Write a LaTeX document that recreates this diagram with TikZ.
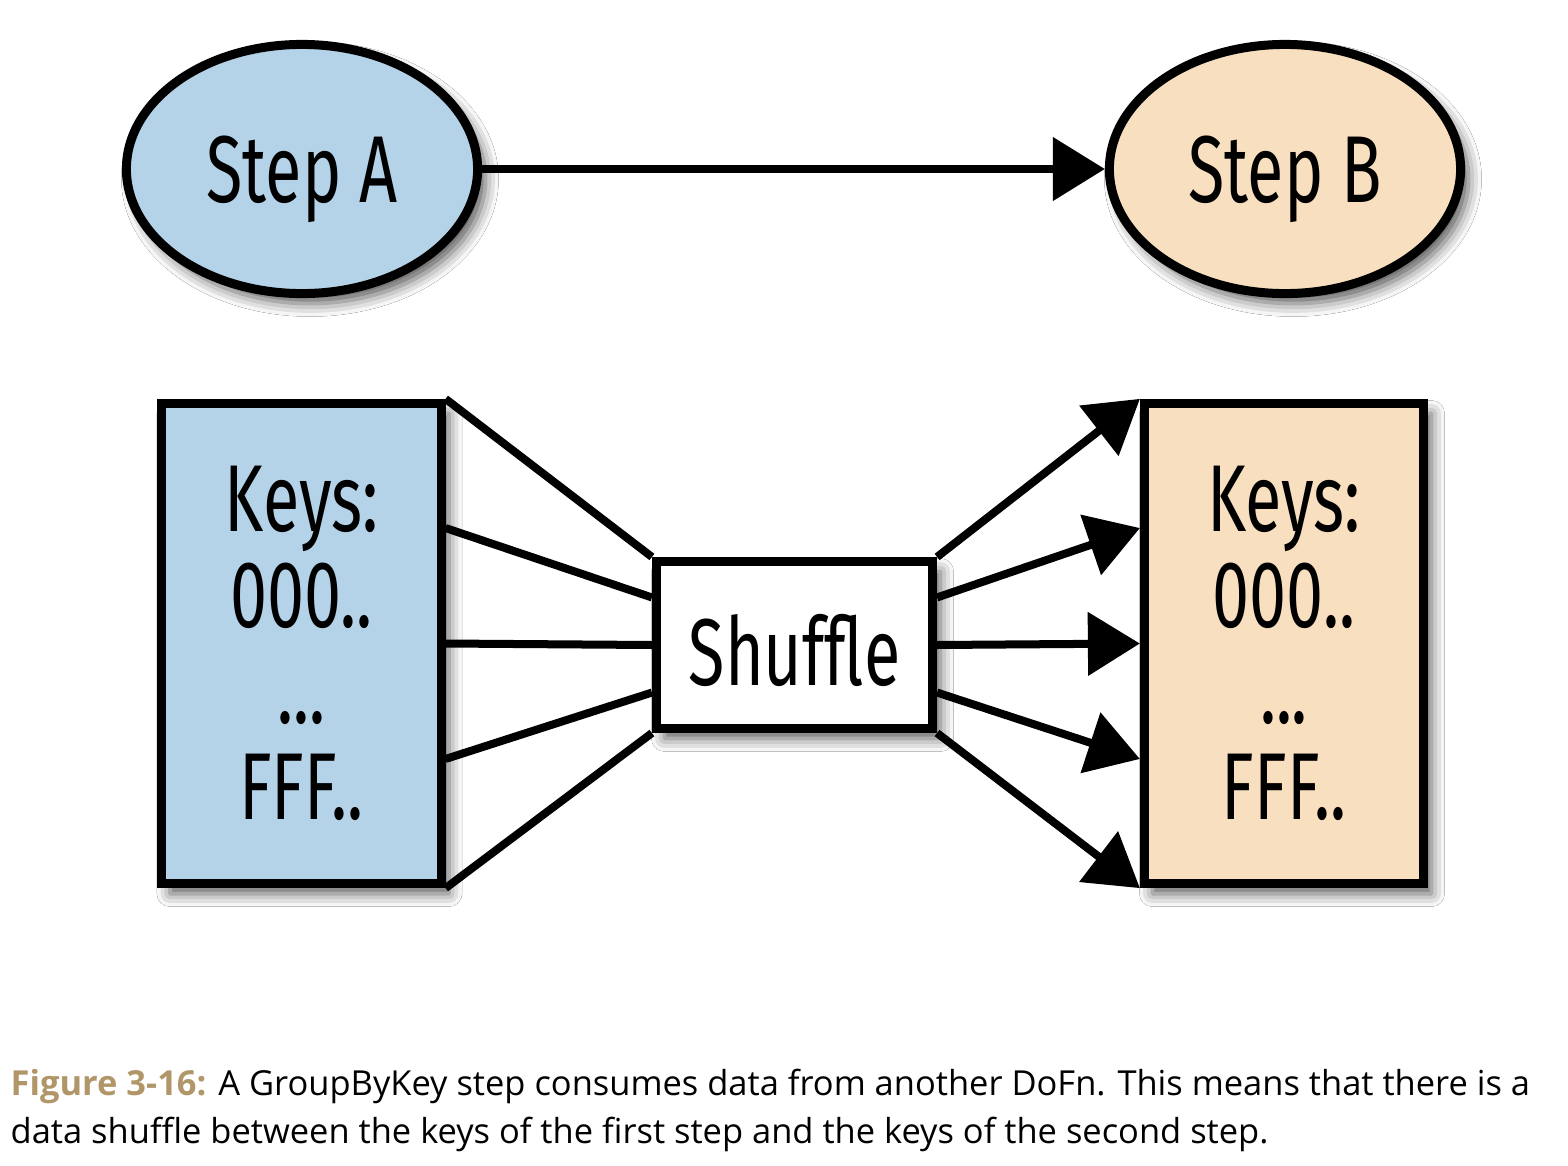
\documentclass[tikz,border=0pt]{standalone}
\usepackage{fontspec}
\setmainfont{Open Sans}
\newfontfamily\boxfont[FakeStretch=0.7]{Fira Sans}
\usetikzlibrary{arrows.meta,calc,shapes.geometric,shadows.blur}
\definecolor{stepblue}{HTML}{B5D3E8}
\definecolor{steppeach}{HTML}{F8DFC0}
\definecolor{figgold}{HTML}{B09668}
\tikzset{>={Triangle[length=0.52cm,width=0.62cm]}}
\tikzset{
    softshadow/.style={blur shadow={shadow xshift=0.08cm,shadow yshift=-0.1cm,
        shadow blur radius=0.13cm,shadow opacity=65}},
    stepnode/.style={ellipse,draw,line width=0.09cm,minimum width=3.51cm,
        minimum height=2.49cm,inner sep=0pt,softshadow,text depth=0pt,
        font=\boxfont\fontsize{27}{27}\selectfont},
    keybox/.style={rectangle,draw,line width=0.09cm,minimum width=2.79cm,
        minimum height=4.80cm,inner sep=0pt,align=center,softshadow,
        font=\boxfont\fontsize{27}{27.3}\selectfont},
    link/.style={line width=0.08cm},
}

\begin{document}
\begin{tikzpicture}[x=0.01cm,y=-0.01cm]
    \useasboundingbox[fill=white] (0,0) rectangle (1568,1166);
    \node[stepnode,fill=stepblue]  (stepA) at (302,169) {Step A};
    \node[stepnode,fill=steppeach] (stepB) at (1285,169) {Step B};
    \draw[link,->] (stepA) -- (stepB);

    \node[keybox,fill=stepblue]  (keysA) at (301.5,643.5) {Keys:\\000..\\...\\FFF..};
    \node[keybox,fill=steppeach] (keysB) at (1284,643.5) {Keys:\\000..\\...\\FFF..};
    \node[rectangle,draw,fill=white,line width=0.09cm,minimum width=2.76cm,
        minimum height=1.67cm,inner sep=0pt,softshadow,text height=0.8cm,text depth=0pt,
        font=\boxfont\fontsize{27}{27}\selectfont] (shuffle) at (794.5,645) {Shuffle};

    \foreach \s/\t in {0/0,0.264/0.23,0.5/0.5,0.736/0.77,1/1}{
        \draw[link] ($(keysA.north east)!\s!(keysA.south east)$) --
            ($(shuffle.north west)!\t!(shuffle.south west)$);
        \draw[link,->] ($(shuffle.north east)!\t!(shuffle.south east)$) --
            ($(keysB.north west)!\s!(keysB.south west)$);
    }

    \node[anchor=base west,inner sep=0pt,font=\fontsize{9.8}{13}\selectfont] (caption1) at (10,1095)
        {\textcolor{figgold}{\bfseries Figure 3-16:} A GroupByKey step consumes data from another DoFn. This means that there is a};
    \node[anchor=base west,inner sep=0pt,font=\fontsize{9.8}{13}\selectfont] (caption2) at (10,1143)
        {data shuffle between the keys of the first step and the keys of the second step.};
\end{tikzpicture}
\end{document}
